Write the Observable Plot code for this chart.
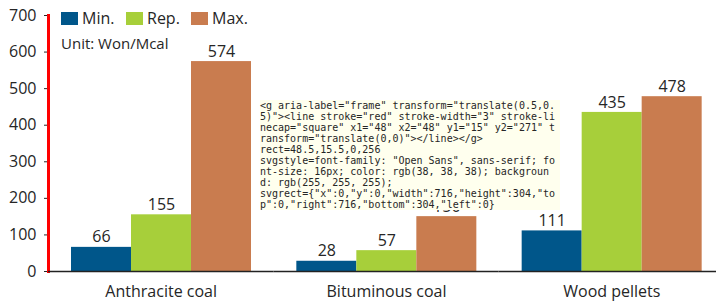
<!DOCTYPE html>
<html>
<head>
<meta charset="utf-8">
<script src="https://cdn.jsdelivr.net/npm/d3@7"></script>
<script src="https://cdn.jsdelivr.net/npm/@observablehq/plot@0.6"></script>
<style>
  html, body { margin: 0; padding: 0; background: #fff; overflow: hidden; }
  #wrap { position: relative; width: 716px; height: 304px; overflow: hidden; font-family: "Open Sans", sans-serif; color: #262626; }
  #wrap svg { display: block; }
  #legend { position: absolute; left: 61px; top: 8px; font-size: 16px; line-height: 20px; }
  #legend .row { display: flex; align-items: center; }
  #legend .item { display: flex; align-items: center; width: 65px; }
  #legend .sw { width: 17px; height: 13px; margin-right: 4px; }
  #legend .unit { margin-top: 5px; font-size: 15px; }
  #dbg { position: absolute; left: 260px; top: 100px; width: 300px; font: 10px monospace; white-space: pre-wrap; word-break: break-all; background: #ffe; }
</style>
</head>
<body>
<div id="wrap"><div id="legend"></div><div id="dbg"></div></div>
<script>
const categories = ["Anthracite coal", "Bituminous coal", "Wood pellets"];
const series = ["Min.", "Rep.", "Max."];
const minValues = [66, 28, 111];
const repValues = [155, 57, 435];
const maxValues = [574, 150, 478];
const colors = ["#00568a", "#a7cf3a", "#c97c4f"];
const yTicks = [0, 100, 200, 300, 400, 500, 600, 700];
const unitLabel = "Unit: Won/Mcal";

const seriesValues = [minValues, repValues, maxValues];
const data = [];
categories.forEach((c, i) => {
  series.forEach((s, j) => data.push({category: c, series: s, value: seriesValues[j][i]}));
});

const plot = Plot.plot({
  width: 716,
  height: 304,
  marginLeft: 48,
  marginRight: -8,
  marginTop: 15,
  marginBottom: 33,
  style: {fontFamily: "Open Sans, sans-serif", fontSize: "16px", color: "#262626", background: "#fff"},
  fx: {domain: categories, paddingInner: 0, paddingOuter: 0, round: false, label: null, tickSize: 0, tickPadding: 14},
  x: {domain: series, paddingInner: 0, paddingOuter: 0.365, axis: null},
  y: {domain: [0, 700], ticks: yTicks, label: null, tickSize: 4, tickPadding: 8},
  color: {domain: series, range: colors},
  marks: [
    Plot.barY(data, {fx: "category", x: "series", y: "value", fill: "series"}),
    Plot.frame({anchor: "left", stroke: "red", strokeWidth: 3, fx: () => categories[0]}),
    Plot.ruleY([0], {stroke: "#222", strokeWidth: 1.5}),
    Plot.text(data, {fx: "category", x: "series", y: "value", text: d => String(d.value), dy: -10, fontSize: 16, fill: "#262626"})
  ]
});

const wrap = document.getElementById("wrap");
wrap.insertBefore(plot, wrap.firstChild);
const fr = plot.querySelector('g[aria-label="frame"]');
const r = fr ? fr.getBoundingClientRect() : null;
document.getElementById("dbg").textContent = (fr ? fr.outerHTML.slice(0, 400) : "no frame") + "\nrect=" + (r ? [r.x, r.y, r.width, r.height].join(",") : "") + "\nsvgstyle=" + plot.getAttribute("style") + "\nsvgrect=" + JSON.stringify(plot.getBoundingClientRect());

const legend = document.getElementById("legend");
const row = document.createElement("div");
row.className = "row";
series.forEach((s, j) => {
  const item = document.createElement("div");
  item.className = "item";
  const sw = document.createElement("span");
  sw.className = "sw";
  sw.style.background = colors[j];
  const t = document.createElement("span");
  t.textContent = s;
  item.appendChild(sw); item.appendChild(t);
  row.appendChild(item);
});
legend.appendChild(row);
const unit = document.createElement("div");
unit.className = "unit";
unit.textContent = unitLabel;
legend.appendChild(unit);
</script>
</body>
</html>
